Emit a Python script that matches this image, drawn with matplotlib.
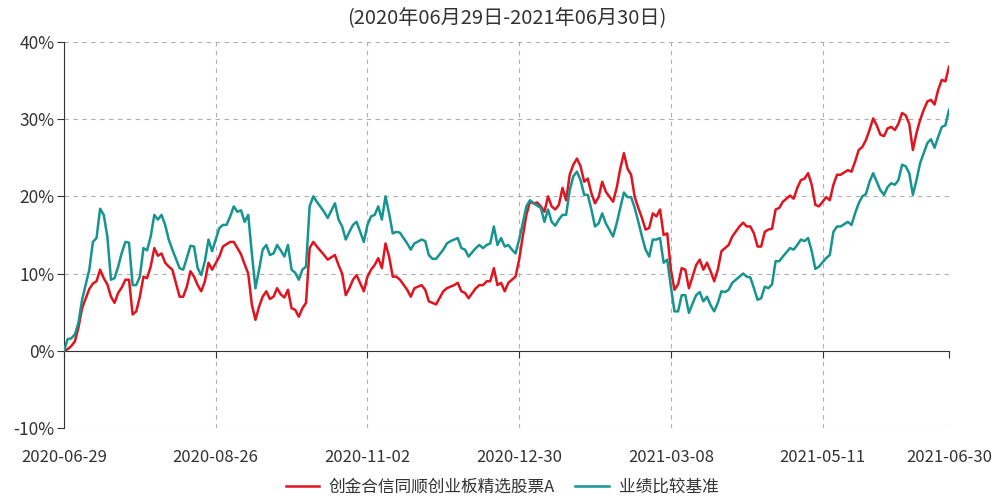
import matplotlib
matplotlib.use("Agg")
import matplotlib.pyplot as plt
from matplotlib.ticker import FuncFormatter

plt.rcParams['font.family'] = ['Noto Sans CJK SC', 'DejaVu Sans']

title = "(2020年06月29日-2021年06月30日)"
fund_name = "创金合信同顺创业板精选股票A"
bench_name = "业绩比较基准"

tick_days = [0, 42, 84, 126, 168, 210, 245]
tick_labels = ["2020-06-29", "2020-08-26", "2020-11-02", "2020-12-30",
               "2021-03-08", "2021-05-11", "2021-06-30"]
y_ticks = [-10, 0, 10, 20, 30, 40]

# trading-day index of each sampled point
days = [0, 1, 2, 3, 4, 5, 7, 8, 9, 10, 11, 12, 13, 14, 15, 16, 17, 18, 19, 20,
        21, 22, 23, 24, 25, 26, 27, 28, 29, 30, 32, 33, 34, 35, 36, 37, 38, 39, 40, 41,
        43, 44, 45, 46, 47, 48, 49, 50, 51, 52, 53, 54, 55, 56, 57, 58, 59, 60, 61, 62,
        63, 64, 65, 66, 67, 68, 69, 70, 72, 73, 75, 76, 77, 78, 79, 80, 81, 83, 84, 85,
        86, 87, 88, 89, 90, 91, 92, 93, 95, 96, 97, 99, 100, 101, 102, 103, 105, 106, 107, 108,
        109, 110, 111, 112, 114, 115, 116, 117, 118, 119, 120, 121, 122, 123, 124, 125, 126, 127, 128, 129,
        130, 131, 132, 133, 134, 135, 136, 137, 138, 139, 140, 141, 142, 143, 144, 145, 146, 147, 148, 149,
        150, 152, 153, 154, 155, 156, 157, 158, 159, 160, 161, 162, 163, 164, 165, 166, 167, 168, 169, 170,
        171, 172, 173, 174, 175, 176, 177, 178, 179, 180, 181, 182, 183, 184, 185, 187, 188, 189, 190, 191,
        192, 193, 194, 195, 196, 197, 198, 199, 201, 202, 203, 204, 205, 206, 207, 208, 209, 211, 212, 213,
        214, 215, 217, 218, 219, 220, 221, 222, 223, 224, 225, 226, 227, 228, 229, 230, 231, 232, 233, 234,
        235, 236, 237, 238, 239, 240, 241, 242, 243, 244, 245]

# benchmark (teal), percent
bench = [0.0, 1.5, 1.6, 2.1, 3.6, 6.6, 10.5, 14.1, 14.6, 18.4, 17.6, 14.8, 9.2, 9.4, 10.9, 12.7, 14.1, 14.0, 8.5, 8.5,
         9.6, 13.3, 13.0, 14.8, 17.6, 17.0, 17.6, 16.3, 14.4, 13.1, 10.7, 10.5, 12.0, 13.6, 13.5, 10.7, 9.8, 11.6, 14.4, 12.9,
         15.9, 16.3, 16.3, 17.4, 18.7, 18.0, 18.2, 16.7, 17.6, 12.6, 8.1, 10.5, 13.1, 13.7, 12.4, 12.6, 13.7, 13.0, 12.2, 13.7,
         10.5, 10.1, 9.2, 10.5, 10.9, 18.7, 20.0, 19.3, 18.0, 17.2, 19.1, 17.0, 16.1, 14.4, 15.4, 16.3, 16.7, 14.1, 16.3, 17.4,
         17.6, 18.7, 17.0, 20.0, 17.8, 15.2, 15.4, 15.3, 13.9, 13.1, 13.9, 14.4, 14.2, 12.4, 11.9, 11.9, 13.1, 13.9, 14.2, 14.4,
         14.6, 13.3, 13.1, 12.2, 13.3, 13.7, 13.3, 13.7, 13.9, 16.1, 13.7, 14.6, 13.5, 13.7, 13.1, 12.6, 14.4, 16.5, 18.7, 19.5,
         19.1, 18.8, 18.5, 16.7, 18.3, 16.7, 16.2, 17.0, 17.6, 17.6, 20.8, 22.6, 23.2, 22.1, 20.2, 20.2, 18.3, 16.1, 16.5, 17.8,
         16.5, 14.8, 16.5, 18.5, 20.5, 19.9, 19.9, 18.5, 16.7, 14.8, 13.1, 12.2, 14.4, 14.4, 14.6, 11.4, 11.8, 8.3, 5.1, 5.1,
         7.2, 7.2, 4.9, 6.1, 7.2, 7.6, 6.4, 7.0, 5.9, 5.1, 6.2, 7.7, 7.6, 7.9, 8.8, 9.6, 10.0, 9.6, 9.5, 8.1,
         6.6, 6.8, 8.3, 8.1, 8.6, 11.6, 11.6, 12.2, 13.3, 13.1, 13.7, 14.4, 14.2, 14.6, 12.9, 10.6, 10.9, 12.0, 12.4, 15.4,
         16.1, 16.1, 16.7, 16.3, 17.8, 19.1, 20.0, 20.3, 21.9, 23.0, 21.9, 20.8, 20.2, 21.2, 21.7, 21.5, 22.1, 24.1, 23.9, 23.0,
         20.2, 22.1, 24.3, 25.6, 26.9, 27.4, 26.3, 27.7, 29.0, 29.2, 31.2]

# fund (red), percent
fund = [0.0, 0.2, 0.6, 1.2, 3.0, 5.5, 8.0, 8.7, 9.0, 10.5, 9.4, 8.6, 7.0, 6.2, 7.5, 8.2, 9.2, 9.2, 4.7, 5.1,
        7.0, 9.6, 9.4, 10.9, 13.3, 12.3, 12.6, 11.4, 10.9, 10.5, 7.0, 7.0, 8.3, 10.3, 9.6, 8.5, 7.7, 9.0, 11.4, 10.5,
        12.2, 13.5, 13.8, 14.1, 14.1, 13.3, 12.5, 11.2, 10.0, 6.0, 4.0, 5.7, 7.0, 7.7, 6.7, 7.0, 8.1, 7.3, 6.9, 7.9,
        5.5, 5.3, 4.4, 5.5, 6.2, 13.3, 14.1, 13.5, 12.4, 11.8, 12.4, 11.1, 10.0, 7.2, 8.1, 9.2, 9.8, 7.7, 9.6, 10.5,
        11.1, 12.0, 10.7, 13.9, 12.2, 9.6, 9.6, 9.2, 7.9, 7.0, 8.1, 8.5, 7.9, 6.4, 6.2, 6.0, 7.7, 8.1, 8.3, 8.5,
        8.8, 7.7, 7.5, 6.8, 8.1, 8.5, 8.5, 9.0, 9.0, 10.7, 8.5, 8.8, 7.7, 8.8, 9.2, 9.6, 11.8, 14.8, 17.6, 19.3,
        19.1, 19.2, 18.7, 18.0, 20.0, 18.7, 18.3, 18.9, 21.1, 19.5, 22.8, 24.1, 24.9, 23.9, 21.9, 22.3, 20.4, 19.1, 19.9, 21.9,
        20.6, 19.3, 21.1, 23.6, 25.6, 23.6, 22.8, 19.9, 18.5, 17.2, 15.7, 15.9, 17.8, 17.4, 18.3, 15.0, 15.2, 10.5, 7.9, 8.6,
        10.7, 10.5, 8.1, 9.6, 11.1, 11.8, 10.5, 11.4, 10.3, 9.0, 10.5, 12.9, 13.3, 13.7, 14.8, 16.1, 16.6, 16.1, 16.1, 15.2,
        13.5, 13.5, 15.4, 15.7, 15.8, 18.3, 18.5, 19.3, 20.1, 19.7, 21.1, 22.1, 22.3, 23.0, 21.5, 18.9, 18.7, 19.9, 19.5, 21.5,
        22.8, 22.8, 23.4, 23.2, 24.5, 26.0, 26.4, 27.3, 28.6, 30.1, 29.2, 28.0, 27.8, 28.8, 29.0, 28.6, 29.4, 30.8, 30.5, 29.4,
        26.0, 28.2, 29.9, 31.2, 32.3, 32.5, 31.9, 33.8, 35.1, 34.9, 36.8]

RED = '#e0141e'
TEAL = '#16948f'
TXT = '#333333'
GRID = '#b0b0b0'

fig = plt.figure(figsize=(10, 4.97), dpi=100)
ax = fig.add_axes([0.064, 0.139, 0.885, 0.7765])

ax.plot(days, fund, color=RED, lw=1.8, label=fund_name, zorder=3)
ax.plot(days, bench, color=TEAL, lw=1.8, label=bench_name, zorder=3)

ax.set_xlim(0, 245)
ax.set_ylim(-10, 40)
ax.set_yticks(y_ticks)
ax.yaxis.set_major_formatter(FuncFormatter(lambda v, p: f"{int(v)}%"))
ax.set_xticks(tick_days)
ax.set_xticklabels([])

ax.grid(True, which='major', linestyle=(0, (4, 4)), color=GRID, lw=0.8)
for s in ['top', 'right']:
    ax.spines[s].set_visible(False)
ax.spines['left'].set_color(TXT)
ax.spines['bottom'].set_position(('data', 0))
ax.spines['bottom'].set_color(TXT)
ax.tick_params(axis='x', length=5, color=TXT, direction='out')
ax.tick_params(axis='y', length=5, color=TXT, labelsize=12.5, labelcolor=TXT, pad=2)

sec = ax.secondary_xaxis('bottom')
sec.set_xticks(tick_days)
sec.set_xticklabels(tick_labels)
sec.tick_params(length=0, labelsize=12, labelcolor=TXT, pad=15)
sec.spines['bottom'].set_visible(False)

fig.text(0.507, 0.962, title, ha='center', va='center', fontsize=14.5, color=TXT)

fig.legend(loc='center', bbox_to_anchor=(0.502, 0.02), ncol=2, frameon=False,
           fontsize=12, handlelength=2.0, handletextpad=0.6, columnspacing=1.2, labelcolor=TXT)

fig.savefig('out.png', dpi=100)
